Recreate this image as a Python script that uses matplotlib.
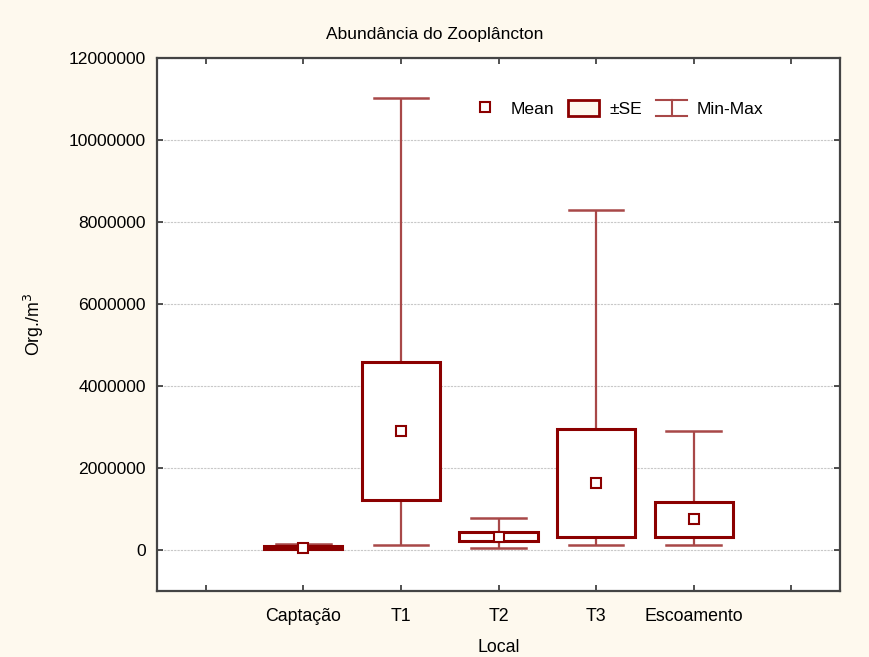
import matplotlib
matplotlib.use("Agg")
import matplotlib.pyplot as plt
from matplotlib.lines import Line2D
from matplotlib.patches import Rectangle, Patch
from matplotlib.legend_handler import HandlerBase
import numpy as np

plt.rcParams['font.family'] = ['Liberation Sans', 'DejaVu Sans']

# ---- data ----
categories = ['Captação', 'T1', 'T2', 'T3', 'Escoamento']
means = [60000, 2900000, 320000, 1640000, 750000]
se = [30000, 1680000, 113000, 1320000, 425000]
mins = [15000, 115000, 60000, 115000, 115000]
maxs = [135000, 11030000, 790000, 8290000, 2910000]
yticks = [0, 2000000, 4000000, 6000000, 8000000, 10000000, 12000000]

dark = '#8B0000'
light = '#A84848'
bg = '#FEF9EE'

fig = plt.figure(figsize=(8.69, 6.57), dpi=100, facecolor=bg)
ax = fig.add_axes([0.1807, 0.1005, 0.7859, 0.8112])
ax.set_facecolor('white')

xs = np.arange(1, len(categories) + 1)
box_w = 0.8
cap_w = 0.56
for x, m, s, lo, hi in zip(xs, means, se, mins, maxs):
    ax.plot([x, x], [lo, hi], color=light, lw=1.6, zorder=2, solid_capstyle='butt')
    ax.plot([x - cap_w / 2, x + cap_w / 2], [lo, lo], color=light, lw=1.8, zorder=2)
    ax.plot([x - cap_w / 2, x + cap_w / 2], [hi, hi], color=light, lw=1.8, zorder=2)
    ax.add_patch(Rectangle((x - box_w / 2, m - s), box_w, 2 * s, facecolor='white',
                           edgecolor=dark, lw=2.2, zorder=3))
    ax.plot([x], [m], marker='s', markersize=6.5, markerfacecolor='white',
            markeredgecolor=dark, markeredgewidth=1.5, zorder=4, linestyle='none')

ax.set_xlim(-0.5, 6.5)
ax.set_ylim(-1000000, 12000000)
ax.set_xticks(np.arange(0, len(categories) + 2))
ax.set_xticklabels([''] + categories + [''])
ax.set_yticks(yticks)
ax.set_yticklabels([str(v) for v in yticks])
ax.yaxis.grid(True, color='#C8C8C8', linestyle=(0, (2, 1)), lw=0.8)
ax.set_axisbelow(True)
ax.tick_params(direction='in', length=4, width=1.2, color='#333333',
               top=True, right=True, colors='#333333', labelcolor='black')
ax.tick_params(axis='y', labelsize=12.6, pad=8)
ax.tick_params(axis='x', labelsize=12.8, pad=12)
for sp in ax.spines.values():
    sp.set_color('#444444')
    sp.set_linewidth(1.6)

fig.text(0.5, 1 - 35 / 657, 'Abundância do Zooplâncton', fontsize=12.5,
         ha='center', va='center')
ax.set_xlabel('Local', fontsize=12.8, labelpad=10)
ax.set_ylabel('Org./m$^3$', fontsize=12.8, labelpad=16)


class IBeamHandler(HandlerBase):
    def create_artists(self, legend, orig_handle, xdescent, ydescent, width,
                       height, fontsize, trans):
        x0, x1 = -xdescent, -xdescent + width
        xm = (x0 + x1) / 2
        y0, y1 = -ydescent, -ydescent + height
        kw = dict(color=light, lw=1.5, transform=trans)
        return [Line2D([x0, x1], [y1, y1], **kw),
                Line2D([x0, x1], [y0, y0], **kw),
                Line2D([xm, xm], [y0, y1], **kw)]


mean_h = Line2D([], [], marker='s', linestyle='none', markersize=6.5,
                markerfacecolor='white', markeredgecolor=dark, markeredgewidth=1.5)
se_h = Patch(facecolor=bg, edgecolor=dark, lw=2)
mm_h = Line2D([], [], color=light)
ax.legend([mean_h, se_h, mm_h], ['Mean', '±SE', 'Min-Max'],
          handler_map={mm_h: IBeamHandler()}, ncol=3, frameon=False,
          loc='center left', bbox_to_anchor=(0.434, 0.9056), fontsize=12.6,
          handlelength=1.8, handleheight=1.05, handletextpad=0.55,
          columnspacing=0.8)

fig.savefig('out.png', dpi=100, facecolor=bg)
